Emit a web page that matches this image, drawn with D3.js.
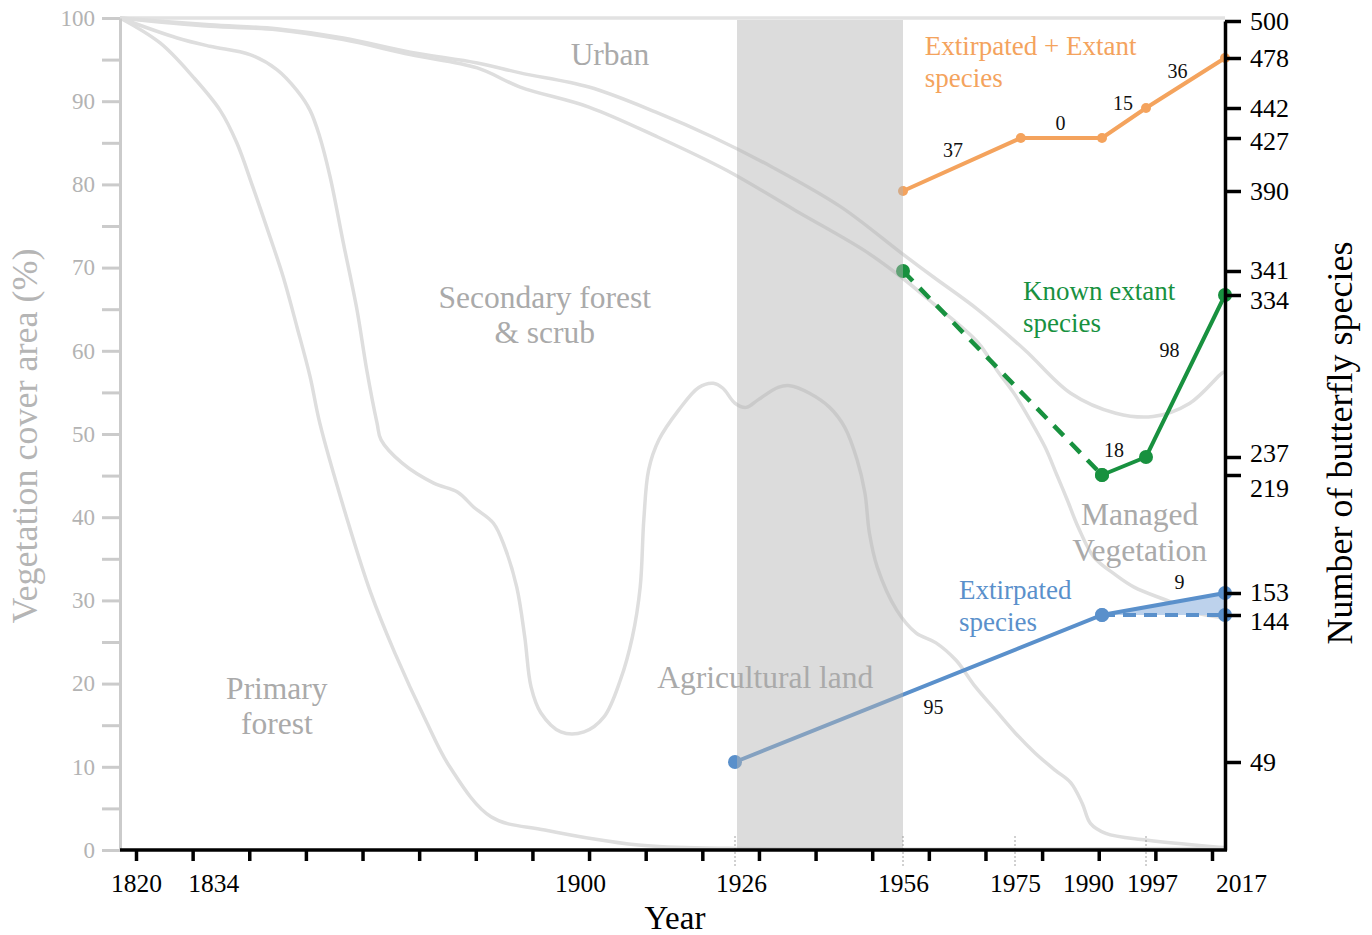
<!DOCTYPE html>
<html>
<head>
<meta charset="utf-8">
<script src="https://cdn.jsdelivr.net/npm/d3@7"></script>
<style>
  body { margin: 0; background: #fff; }
  text { font-family: "Liberation Serif", "Times New Roman", serif; }
</style>
</head>
<body>
<script>
// ---- data ----
const yearLabels = [1820, 1834, 1900, 1926, 1956, 1975, 1990, 1997, 2017];
const markerYears = [1926, 1956, 1975, 1997];
const speciesTicks = [49, 144, 153, 219, 237, 334, 341, 390, 427, 442, 478, 500];

// vegetation boundaries (year, cumulative % cover)
const primaryTop = [[1820,100],[1827,97],[1832.8,92.9],[1837.5,88.9],[1840.4,85],[1843.2,79.7],
  [1846.2,73.7],[1848.5,68.9],[1850.9,62.9],[1853.2,56.9],[1854.9,51.3],[1859.7,39.7],[1863.8,30.9],
  [1868,23.7],[1873.4,15.6],[1877.6,10],[1884.8,4],[1894.2,2.4],[1910,0.6],[1925,0.2],[2017,0.2]];
const agriTop = [[1820,100],[1830,97.6],[1835.7,96.6],[1842.7,95.6],[1847.4,93.8],[1850.9,91.3],
  [1853.2,88.9],[1854.9,85.7],[1856.7,80.9],[1859,73],[1861.4,64.9],[1863.1,57.7],[1864.9,51.3],
  [1865.6,49.3],[1869.3,46.5],[1874.8,44.1],[1879,43],[1881.8,41.2],[1885.2,39.3],[1887.2,36.4],
  [1889.3,31.6],[1890.7,25.6],[1891.8,19.6],[1893.5,16.5],[1897,14.2],[1901,14.2],[1904.3,16],
  [1907,20.4],[1909,25.6],[1910.3,31.6],[1910.9,39.7],[1911.7,45.7],[1913.4,49.3],[1916.7,52.9],
  [1920,55.6],[1922.4,56.1],[1924,55.5],[1926,53.7],[1928,53.2],[1930.1,54.1],[1933.7,55.6],
  [1935.8,55.8],[1939.3,54.9],[1942.9,53.2],[1945.6,50.8],[1947.8,46.9],[1949.2,42.9],[1950,38.1],
  [1951.4,34],[1954.9,28.8],[1958.2,26.1],[1961.6,24.9],[1965,22.8],[1968.3,19.6],[1971.7,16.8],
  [1975,14.1],[1978.4,11.7],[1981.9,9.6],[1984.6,8.1],[1986.6,5.6],[1988,3.2],[1990.6,2],
  [1997,1.2],[2014,0.4],[2017,0.3]];
const secondaryTop = [[1820,100],[1835.7,99],[1847.4,98.6],[1859,97.4],[1870.7,95.6],[1882.4,94],
  [1889.9,91.7],[1901.8,89.3],[1913.2,85.7],[1924.6,81.7],[1936.7,76.9],[1949,72.1],[1955.6,68.9],
  [1961.1,65.7],[1968.7,61],[1971.9,57.7],[1975,54.7],[1977.6,51.7],[1980.2,48.4],[1982.2,45.1],
  [1984,42.1],[1985.9,38.8],[1988.6,35.2],[1992.1,33.1],[1995.1,31.6],[2003.8,29.7],[2008.9,28.6],
  [2017,27.9]];
const managedTop = [[1820,100],[1835.7,99.2],[1847.4,98.7],[1859,97.6],[1870.7,95.9],[1882.4,94.6],
  [1889.9,93.4],[1901.8,91.7],[1913.2,88.6],[1922.3,85.7],[1932.6,82.1],[1944.9,77.3],[1955.6,71.8],
  [1961.1,68.9],[1968.8,64.9],[1976.7,60.1],[1984.6,54.9],[1992.2,52.5],[1998.8,52.1],[2008.1,53.7],
  [2016.2,57.3],[2017,57.5]];

// butterfly species counts (year, number)
const allSpecies = [[1956,390],[1976,427],[1990,427],[1997,442],[2017,478]];
const allSteps = ["37", "0", "15", "36"];
const extantEstimated = [[1956,341],[1990,219]];
const extantKnown = [[1990,219],[1997,237],[2017,334]];
const extantSteps = ["18", "98"];
const extirpated = [[1926,49],[1990,144],[2017,153]];
const extirpatedFlat = [[1990,144],[2017,144]];
const extirpatedSteps = ["95", "9"];

// ---- layout ----
const WIDTH = 1372, HEIGHT = 935;
const ORANGE = "#f4a35d", GREEN = "#18913f", BLUE = "#5a90cb";
const GREY_LINE = "#dedede", GREY_TEXT = "#aaaaaa";

var x = d3.scaleLinear()
    .domain([1820, 1900, 1926, 1956, 1975, 1990, 1997, 2017])
    .range([120, 578, 735, 903, 1015, 1102, 1146, 1225]);
var yL = d3.scaleLinear().domain([0, 100]).range([850, 18]);
var yR = d3.scaleLinear()
    .domain([0, 49, 144, 153, 219, 237, 334, 341, 390, 427, 442, 478, 500])
    .range([850, 762, 615, 593, 475, 457, 295, 271, 191, 138, 108, 58, 21]);
// evenly spaced unlabeled year ticks
var tickIndex = d3.scaleLinear().domain([0, 19]).range([136, 1212]);

var svg = d3.select("body").append("svg")
    .attr("width", WIDTH)
    .attr("height", HEIGHT);

// top frame (100%)
svg.append("line")
    .attr("x1", x(1820)).attr("x2", x(2017))
    .attr("y1", yL(100)).attr("y2", yL(100))
    .attr("stroke", "#e2e2e2").attr("stroke-width", 3.5);

var vegLine = d3.line()
    .x(function(d) { return x(d[0]); })
    .y(function(d) { return yL(d[1]); })
    .curve(d3.curveCatmullRom.alpha(0.5));

[primaryTop, agriTop, secondaryTop, managedTop].forEach(function(c) {
  svg.append("path")
      .attr("d", vegLine(c))
      .attr("fill", "none")
      .attr("stroke", GREY_LINE)
      .attr("stroke-width", 3.5);
});

var spLine = d3.line()
    .x(function(d) { return x(d[0]); })
    .y(function(d) { return yR(d[1]); });

// shaded gap between the two extirpated estimates
svg.append("path")
    .attr("d", spLine([extirpated[1], extirpated[2], extirpatedFlat[1]]) + "Z")
    .attr("fill", "#bdd2ec");

var drawSeries = function(data, color, width, dash) {
  svg.append("path")
      .attr("d", spLine(data))
      .attr("fill", "none")
      .attr("stroke", color)
      .attr("stroke-width", width)
      .attr("stroke-dasharray", dash || null);
};

drawSeries(allSpecies, ORANGE, 4);
drawSeries(extantEstimated, GREEN, 4.5, "14,10");
drawSeries(extantKnown, GREEN, 4);
drawSeries(extirpated, BLUE, 4);
drawSeries(extirpatedFlat, BLUE, 4, "13,8");

var drawPoints = function(data, color, r) {
  svg.append("g").selectAll("circle").data(data)
      .enter().append("circle")
      .attr("cx", function(d) { return x(d[0]); })
      .attr("cy", function(d) { return yR(d[1]); })
      .attr("r", r)
      .attr("fill", color);
};

drawPoints(allSpecies, ORANGE, 5);
drawPoints(extantEstimated.concat(extantKnown), GREEN, 7);
drawPoints(extirpated.concat(extirpatedFlat), BLUE, 7);

// 1926-1956 band
svg.append("rect")
    .attr("x", x(1926) + 2)
    .attr("y", yL(100) + 2)
    .attr("width", x(1956) - x(1926) - 2)
    .attr("height", yL(0) - yL(100) - 2)
    .attr("fill", "#b4b5b4")
    .attr("opacity", 0.47);

// dotted year markers below the axis
svg.append("g").selectAll("line").data(markerYears)
    .enter().append("line")
    .attr("x1", function(d) { return x(d); })
    .attr("x2", function(d) { return x(d); })
    .attr("y1", yL(0) - 14)
    .attr("y2", yL(0) + 17)
    .attr("stroke", "#8a8a8a")
    .attr("stroke-width", 0.8)
    .attr("stroke-dasharray", "2,2");

// step labels on series segments
var stepLabels = function(data, labels, nudges) {
  labels.forEach(function(t, i) {
    var a = data[i], b = data[i + 1];
    svg.append("text")
        .attr("x", (x(a[0]) + x(b[0])) / 2 + nudges[i][0])
        .attr("y", (yR(a[1]) + yR(b[1])) / 2 + nudges[i][1])
        .attr("text-anchor", "middle")
        .attr("dominant-baseline", "central")
        .attr("font-size", 20)
        .attr("fill", "#111")
        .text(t);
  });
};
stepLabels(allSpecies, allSteps, [[-9, -15], [-1, -15], [-1, -20], [-8, -12]]);
stepLabels(extantKnown, extantSteps, [[-10, -16], [-16, -26]]);
stepLabels(extirpated, extirpatedSteps, [[15, 18], [16, -22]]);

// multi-line text helper
var block = function(px, py, lines, opts) {
  var t = svg.append("text")
      .attr("x", px).attr("y", py)
      .attr("text-anchor", opts.anchor || "middle")
      .attr("font-size", opts.size)
      .attr("fill", opts.color);
  lines.forEach(function(l, i) {
    t.append("tspan").attr("x", px).attr("dy", i === 0 ? 0 : opts.gap).text(l);
  });
};

// land-use region names
block(x(1905.3), yL(94.4), ["Urban"], {size: 31.5, color: GREY_TEXT});
block(x(1894.2), yL(65.1), ["Secondary forest", "& scrub"], {size: 31.5, color: GREY_TEXT, gap: 35});
block(x(1847.4), yL(18.2), ["Primary", "forest"], {size: 31.5, color: GREY_TEXT, gap: 35});
block(x(1931.4), yL(19.5), ["Agricultural land"], {size: 31.5, color: GREY_TEXT});
block(x(1996.0), yL(39.1), ["Managed", "Vegetation"], {size: 31.5, color: GREY_TEXT, gap: 36});

// series names
block(x(1959.7), yR(479.8), ["Extirpated + Extant", "species"], {size: 27, color: ORANGE, gap: 32, anchor: "start"});
block(x(1976.4), yR(331), ["Known extant", "species"], {size: 27, color: GREEN, gap: 32, anchor: "start"});
block(x(1965.5), yR(150.4), ["Extirpated", "species"], {size: 27, color: BLUE, gap: 32, anchor: "start"});

// ---- axes ----
var leftAxis = svg.append("g")
    .attr("transform", "translate(" + x(1820) + ",0)")
    .call(d3.axisLeft(yL)
        .tickValues(d3.range(0, 101, 5))
        .tickSize(18)
        .tickSizeOuter(0)
        .tickPadding(7)
        .tickFormat(function(d) { return d % 10 === 0 ? d : ""; }));
leftAxis.selectAll("path, line").attr("stroke", "#cbcbcb").attr("stroke-width", 3);
leftAxis.selectAll("text").attr("fill", "#b3b3b3").attr("font-size", 23)
    .attr("font-family", "Liberation Serif, serif");

var bottomTicks = svg.append("g")
    .attr("transform", "translate(0," + yL(0) + ")")
    .call(d3.axisBottom(tickIndex)
        .tickValues(d3.range(20))
        .tickSize(11)
        .tickSizeOuter(0)
        .tickFormat(""));
bottomTicks.select(".domain").remove();
bottomTicks.selectAll("line").attr("stroke", "#000").attr("stroke-width", 3.5);

svg.append("line")
    .attr("x1", x(1820)).attr("x2", x(2017) + 2)
    .attr("y1", yL(0)).attr("y2", yL(0))
    .attr("stroke", "#000").attr("stroke-width", 3.5);

var labelNudge = {1820: 16, 1834: 13, 1900: 2, 1926: 6, 1990: -14, 1997: 6, 2017: 16};
var bottomAxis = svg.append("g")
    .attr("transform", "translate(0," + yL(0) + ")")
    .call(d3.axisBottom(x)
        .tickValues(yearLabels)
        .tickSize(0)
        .tickPadding(24)
        .tickFormat(d3.format("d")));
bottomAxis.select(".domain").remove();
bottomAxis.selectAll("text")
    .attr("font-size", 25.5)
    .attr("font-family", "Liberation Serif, serif")
    .attr("fill", "#000")
    .attr("dx", function(d) { return labelNudge[d] || 0; });

// right tick labels sit slightly off their ticks to avoid crowding
var rightNudge = {144: 6, 153: -1, 219: 13, 237: -4, 334: 5, 341: -1, 427: 3};
var rightAxis = svg.append("g")
    .attr("transform", "translate(" + x(2017) + ",0)")
    .call(d3.axisRight(yR)
        .tickValues(speciesTicks)
        .tickSize(16)
        .tickSizeOuter(0)
        .tickPadding(9));
rightAxis.selectAll("path, line").attr("stroke", "#000").attr("stroke-width", 3.5);
rightAxis.selectAll("text").attr("font-size", 26)
    .attr("font-family", "Liberation Serif, serif").attr("fill", "#000")
    .attr("y", function(d) { return rightNudge[d] || 0; });

// axis titles
svg.append("text")
    .attr("transform", "translate(37," + 436 + ") rotate(-90)")
    .attr("text-anchor", "middle")
    .attr("font-size", 36)
    .attr("fill", "#b5b5b5")
    .text("Vegetation cover area (%)");

svg.append("text")
    .attr("transform", "translate(1352," + 443 + ") rotate(-90)")
    .attr("text-anchor", "middle")
    .attr("font-size", 36)
    .attr("fill", "#000")
    .text("Number of butterfly species");

svg.append("text")
    .attr("x", 675).attr("y", 929)
    .attr("text-anchor", "middle")
    .attr("font-size", 33)
    .attr("fill", "#000")
    .text("Year");
</script>
</body>
</html>
